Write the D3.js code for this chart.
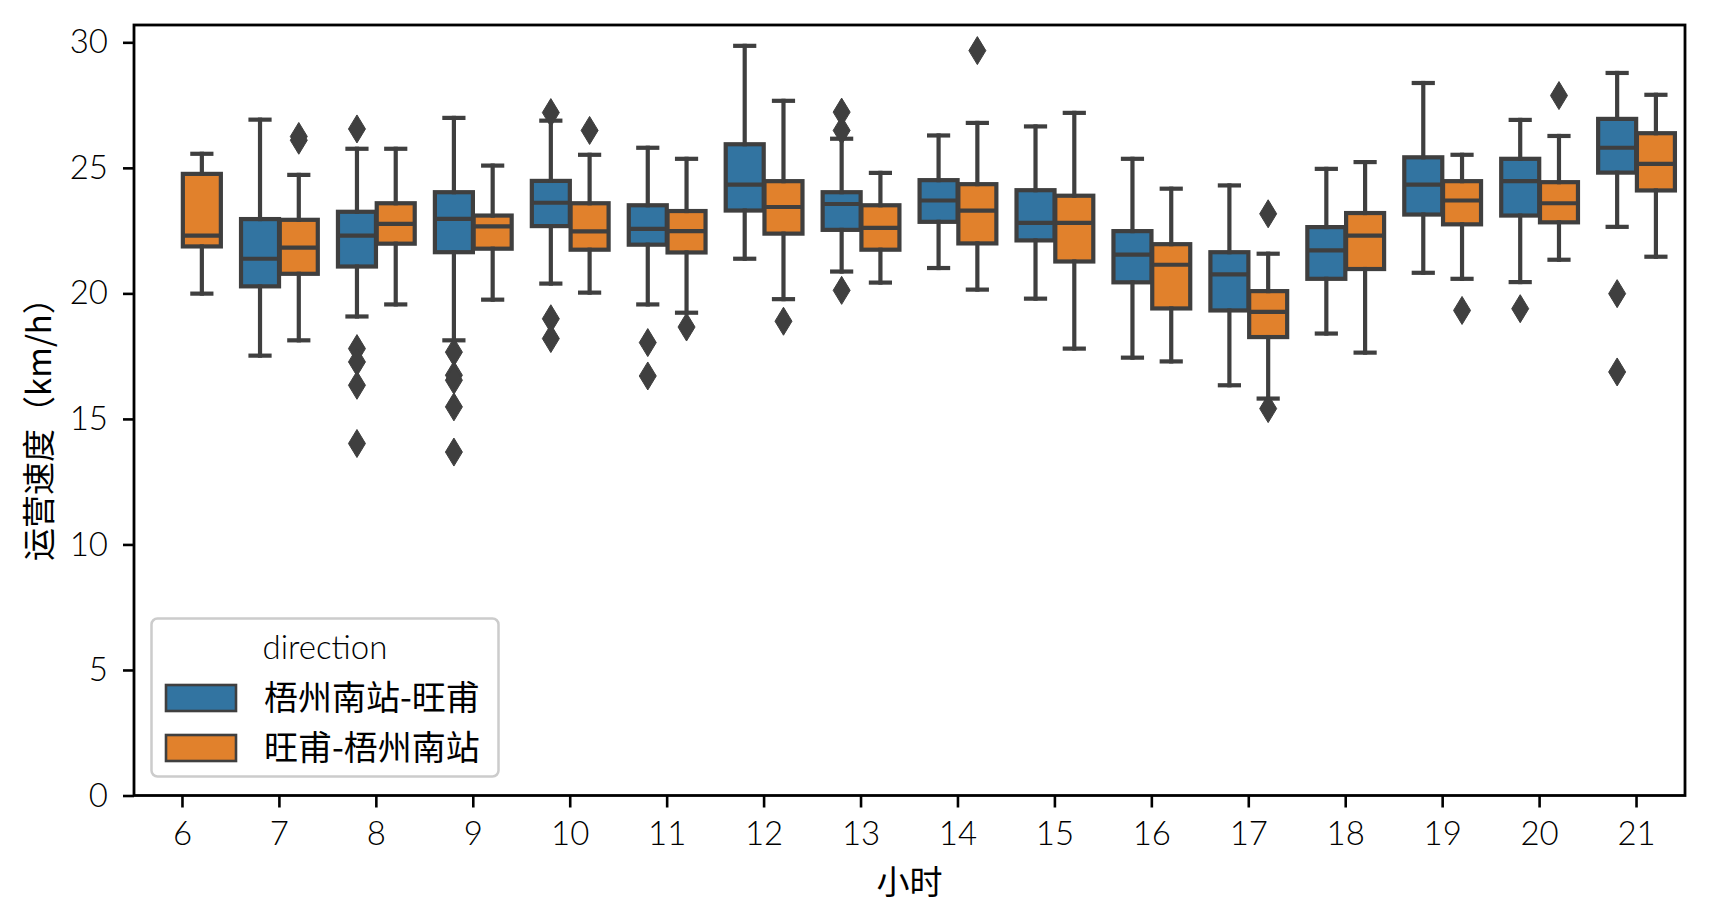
<!DOCTYPE html>
<html><head><meta charset="utf-8">
<script src="https://cdn.jsdelivr.net/npm/d3@7"></script>
<style>
body{margin:0;background:#fff;}
text{font-family:Lato,"Noto Sans CJK SC",sans-serif;}
</style></head>
<body><svg id="chart" width="1709" height="922"></svg>
<script>
const hours = [6,7,8,9,10,11,12,13,14,15,16,17,18,19,20,21];
const seriesNames = ["梧州南站-旺甫","旺甫-梧州南站"];
const seriesColors = ["#3274a1","#e1812c"];
const yTicks = [0,5,10,15,20,25,30];
// [whisker low, Q1, median, Q3, whisker high] per hour (null = no data)
const statsA = [
  null,
  [17.52,20.28,21.38,22.96,26.92],
  [19.08,21.07,22.30,23.25,25.76],
  [18.13,21.64,22.97,24.03,26.99],
  [20.39,22.68,23.61,24.48,26.88],
  [19.56,21.94,22.57,23.51,25.80],
  [21.38,23.30,24.33,25.94,29.86],
  [20.87,22.53,23.56,24.03,26.16],
  [21.01,22.85,23.70,24.51,26.29],
  [19.79,22.11,22.81,24.11,26.65],
  [17.44,20.44,21.54,22.48,25.36],
  [16.34,19.32,20.76,21.64,24.30],
  [18.40,20.58,21.71,22.64,24.96],
  [20.82,23.14,24.33,25.42,28.38],
  [20.45,23.10,24.47,25.36,26.91],
  [22.65,24.81,25.80,26.95,28.78]
];
const statsB = [
  [19.99,21.87,22.30,24.76,25.56],
  [18.13,20.78,21.82,22.93,24.72],
  [19.56,21.98,22.77,23.59,25.76],
  [19.75,21.78,22.67,23.10,25.09],
  [20.03,21.74,22.47,23.59,25.52],
  [19.23,21.63,22.48,23.28,25.36],
  [19.77,22.38,23.44,24.47,27.67],
  [20.43,21.74,22.61,23.51,24.80],
  [20.15,21.99,23.30,24.35,26.79],
  [17.80,21.27,22.81,23.89,27.19],
  [17.29,19.40,21.14,21.96,24.17],
  [15.81,18.26,19.26,20.09,21.58],
  [17.64,20.97,22.30,23.20,25.23],
  [20.58,22.75,23.70,24.47,25.52],
  [21.34,22.83,23.59,24.43,26.27],
  [21.46,24.10,25.16,26.38,27.91]
];
const outliersA = [
  [],
  [],
  [26.55,17.80,17.27,16.34,14.02],
  [17.66,16.74,16.54,15.48,13.68],
  [27.20,18.99,18.20],
  [18.04,16.71],
  [],
  [27.22,26.49,20.12],
  [],
  [],
  [],
  [],
  [],
  [],
  [19.39],
  [19.99,16.87]
];
const outliersB = [
  [],
  [26.25,26.10],
  [],
  [],
  [26.49],
  [18.66],
  [18.89],
  [],
  [29.67],
  [],
  [],
  [23.17,15.41],
  [],
  [19.32],
  [27.88],
  []
];

const svg = d3.select("#chart");
const L=134, R=1685, T=25, B=795.5;
const x = d3.scaleBand().domain(hours).range([L,R]).padding(0);
const y = d3.scaleLinear().domain([0,30.69]).range([B,T]);
const bw = x.bandwidth();
const boxW = bw*0.4*0.98;
const off = [-bw*0.2, bw*0.2];
const lineCol = "#3f3f3f";
const lw = 4.2;
const fs = 33;

const g = svg.append("g");
const allStats = [statsA, statsB];
const allOut = [outliersA, outliersB];

allStats.forEach((stats, si) => {
  const sg = g.append("g");
  const data = hours.map((h,i)=>({h, s:stats[i], o:allOut[si][i]})).filter(d=>d.s);
  data.forEach(d => {
    const cx = x(d.h) + bw/2 + off[si];
    const [lo,q1,med,q3,hi] = d.s;
    sg.append("rect").attr("x",cx-boxW/2).attr("y",y(q3)).attr("width",boxW).attr("height",y(q1)-y(q3))
      .attr("fill",seriesColors[si]).attr("stroke",lineCol).attr("stroke-width",lw);
    [[q1,lo],[q3,hi]].forEach(([a,b])=>{
      sg.append("line").attr("x1",cx).attr("x2",cx).attr("y1",y(a)).attr("y2",y(b))
        .attr("stroke",lineCol).attr("stroke-width",lw).attr("stroke-linecap","square");
      sg.append("line").attr("x1",cx-boxW/4).attr("x2",cx+boxW/4).attr("y1",y(b)).attr("y2",y(b))
        .attr("stroke",lineCol).attr("stroke-width",lw).attr("stroke-linecap","square");
    });
    sg.append("line").attr("x1",cx-boxW/2).attr("x2",cx+boxW/2).attr("y1",y(med)).attr("y2",y(med))
      .attr("stroke",lineCol).attr("stroke-width",lw);
    d.o.forEach(v=>{
      sg.append("path").attr("d","M0,-14 L8.5,0 L0,14 L-8.5,0 Z")
        .attr("transform",`translate(${cx},${y(v)})`).attr("fill",lineCol).attr("stroke",lineCol).attr("stroke-width",1);
    });
  });
});

// axes
const xAxis = g.append("g").attr("transform",`translate(0,${B})`)
  .call(d3.axisBottom(x).tickSize(12).tickPadding(14).tickSizeOuter(0));
const yAxis = g.append("g").attr("transform",`translate(${L},0)`)
  .call(d3.axisLeft(y).tickValues(yTicks).tickSize(11).tickPadding(15).tickSizeOuter(0));
[xAxis,yAxis].forEach(a=>{
  a.select(".domain").remove();
  a.selectAll(".tick line").attr("stroke","#000").attr("stroke-width",2.6);
  a.selectAll(".tick text").attr("fill","#000").style("font-size",fs+"px")
    .style("font-family","Lato, sans-serif").style("font-weight",300);
});
// frame
g.append("rect").attr("x",L).attr("y",T).attr("width",R-L).attr("height",B-T)
  .attr("fill","none").attr("stroke","#000").attr("stroke-width",2.8);

// axis labels
svg.append("text").attr("x",(L+R)/2).attr("y",894).attr("text-anchor","middle")
  .style("font-size","33px").style("font-family","'Noto Sans CJK SC'").text("小时");
svg.append("text").attr("transform",`translate(51,421) rotate(-90)`).attr("text-anchor","middle")
  .style("font-size","33px").style("font-family","'Noto Sans CJK SC'").text("运营速度（km/h）");

// legend
const lg = svg.append("g");
lg.append("rect").attr("x",151.5).attr("y",618.5).attr("width",347).attr("height",158).attr("rx",6)
  .attr("fill","#fff").attr("fill-opacity",0.8).attr("stroke","#cccccc").attr("stroke-width",2.5);
lg.append("text").attr("x",325).attr("y",659).attr("text-anchor","middle").style("font-size",fs+"px")
  .style("font-weight",300).text("direction");
seriesNames.forEach((n,i)=>{
  const yy = 685 + i*50;
  lg.append("rect").attr("x",166).attr("y",yy).attr("width",70).attr("height",26)
    .attr("fill",seriesColors[i]).attr("stroke",lineCol).attr("stroke-width",2.6);
  lg.append("text").attr("x",264).attr("y",yy+25).style("font-size","34px")
    .style("font-family","'Noto Sans CJK SC'").text(n);
});
</script></body></html>
